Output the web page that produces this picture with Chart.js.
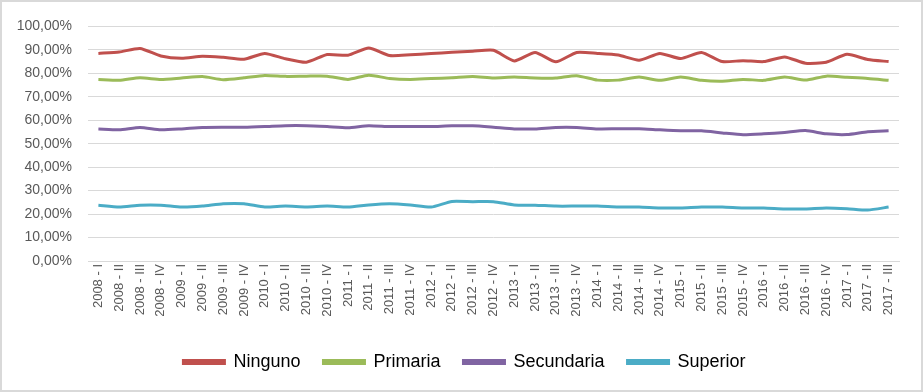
<!DOCTYPE html>
<html>
<head>
<meta charset="utf-8">
<script src="https://cdn.jsdelivr.net/npm/chart.js@4/dist/chart.umd.min.js"></script>
<style>
  html, body { margin: 0; padding: 0; background: #fff; }
  .marco {
    width: 923px;
    height: 392px;
    box-sizing: border-box;
    border: 2px solid #d9d9d9;
    background: #fff;
  }
  canvas { display: block; }
</style>
</head>
<body>
<div class="marco">
  <canvas id="nivelChart" width="919" height="388"></canvas>
</div>
<script>
// Trimestres 2008 - I ... 2017 - III
const anos = ["2008", "2009", "2010", "2011", "2012", "2013", "2014", "2015", "2016", "2017"];
const trimestres = ["I", "II", "III", "IV"];
const categorias = [];
anos.forEach((a) => {
  trimestres.forEach((t) => {
    if (a === "2017" && t === "IV") return;
    categorias.push(a + " - " + t);
  });
});

const ninguno = [
  88.5, 89.1, 90.6, 87.4, 86.4, 87.3, 86.8, 86.0, 88.5, 86.2,
  84.7, 88.0, 87.7, 90.8, 87.6, 87.9, 88.4, 89.0, 89.4, 89.8,
  85.3, 88.9, 84.9, 88.9, 88.5, 87.8, 85.6, 88.5, 86.3, 88.9,
  85.0, 85.4, 85.0, 87.0, 84.3, 84.7, 88.1, 85.9, 85.0
];
const primaria = [
  77.4, 77.0, 78.1, 77.4, 78.0, 78.6, 77.3, 78.1, 79.1, 78.7,
  78.8, 78.8, 77.4, 79.2, 77.8, 77.4, 77.8, 78.1, 78.6, 78.0,
  78.4, 78.0, 78.0, 79.0, 77.1, 77.1, 78.4, 77.0, 78.4, 77.0,
  76.6, 77.4, 77.0, 78.4, 77.1, 78.8, 78.3, 77.8, 77.0
];
const secundaria = [
  56.3, 55.9, 56.9, 55.9, 56.3, 56.9, 57.0, 57.0, 57.3, 57.7,
  57.7, 57.3, 56.8, 57.7, 57.3, 57.3, 57.3, 57.6, 57.6, 57.0,
  56.3, 56.3, 56.9, 56.9, 56.3, 56.4, 56.4, 55.9, 55.5, 55.5,
  54.6, 53.8, 54.2, 54.8, 55.6, 54.2, 53.9, 55.1, 55.5
];
const superior = [
  23.8, 23.0, 23.8, 23.8, 23.0, 23.4, 24.4, 24.4, 23.0, 23.4,
  23.0, 23.4, 23.0, 23.9, 24.4, 23.9, 23.0, 25.4, 25.3, 25.3,
  23.9, 23.8, 23.4, 23.4, 23.4, 23.0, 23.0, 22.6, 22.6, 23.0,
  23.0, 22.6, 22.6, 22.2, 22.2, 22.6, 22.3, 21.7, 23.0
];

const series = [
  { label: "Ninguno", data: ninguno, color: "#c0504d" },
  { label: "Primaria", data: primaria, color: "#9bbb59" },
  { label: "Secundaria", data: secundaria, color: "#8064a2" },
  { label: "Superior", data: superior, color: "#4bacc6" },
];

// corre la leyenda un poco a la derecha, como en el original
const moverLeyenda = {
  id: "moverLeyenda",
  afterLayout(chart) {
    chart.legend.left += 14;
    chart.legend.right += 14;
  },
};

const ctx = document.getElementById("nivelChart").getContext("2d");

new Chart(ctx, {
  type: "line",
  data: {
    labels: categorias,
    datasets: series.map((s) => ({
      label: s.label,
      data: s.data,
      borderColor: s.color,
      backgroundColor: s.color,
      borderWidth: 3,
      pointRadius: 0,
      tension: 0.2,
      fill: false,
    })),
  },
  options: {
    responsive: false,
    animation: false,
    layout: {
      padding: { top: 21, right: 22, bottom: 9, left: 0 },
    },
    plugins: {
      tooltip: { enabled: false },
      legend: {
        position: "bottom",
        labels: {
          boxWidth: 41,
          boxHeight: 3,
          padding: 23,
          color: "#000",
          font: { family: "'Liberation Sans', Arial, sans-serif", size: 18 },
        },
      },
    },
    scales: {
      x: {
        offset: true,
        grid: { display: false, drawTicks: false },
        border: { display: true, color: "#d9d9d9", width: 1 },
        ticks: {
          autoSkip: false,
          maxRotation: 90,
          minRotation: 90,
          padding: 3,
          color: "#595959",
          font: { family: "'Liberation Sans', Arial, sans-serif", size: 13 },
        },
        afterFit: (s) => { s.height = 69; },
      },
      y: {
        min: 0,
        max: 100,
        grid: { color: "#d9d9d9", lineWidth: 1, drawTicks: false },
        border: { display: false },
        ticks: {
          stepSize: 10,
          padding: 16,
          color: "#595959",
          font: { family: "'Liberation Sans', Arial, sans-serif", size: 14 },
          callback: (v) => v.toFixed(2).replace(".", ",") + "%",
        },
        afterFit: (s) => { s.width = 86; },
      },
    },
  },
  plugins: [moverLeyenda],
});
</script>
</body>
</html>
